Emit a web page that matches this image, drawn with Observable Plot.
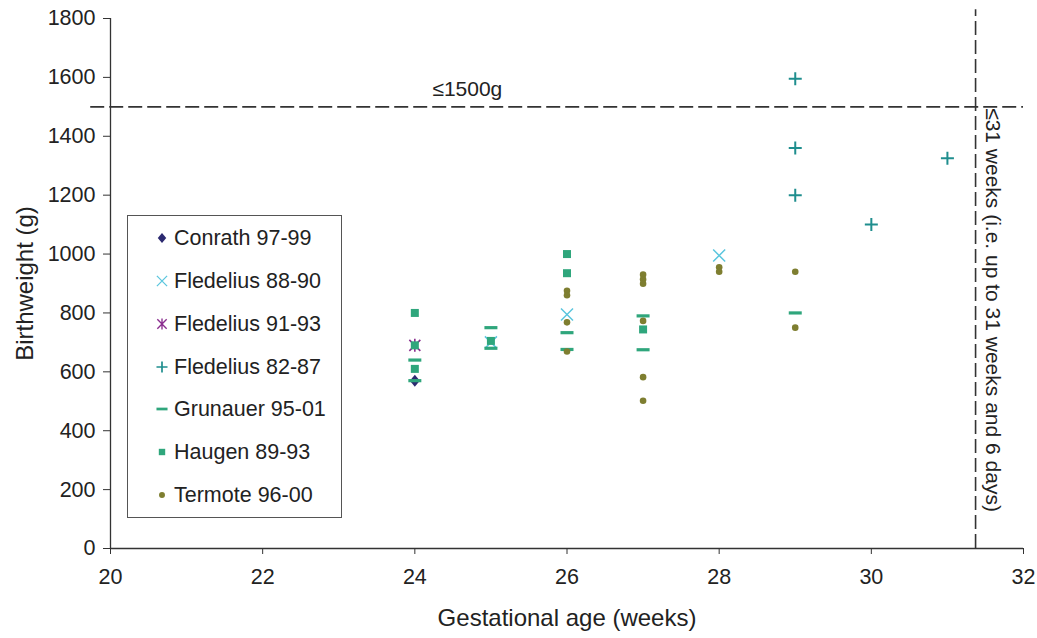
<!DOCTYPE html>
<html>
<head>
<meta charset="utf-8">
<script src="https://cdn.jsdelivr.net/npm/d3@7"></script>
<script src="https://cdn.jsdelivr.net/npm/@observablehq/plot@0.6"></script>
<style>
  html, body { margin: 0; padding: 0; background: #fff; }
  #wrap { position: relative; width: 1037px; height: 638px; font-family: "Liberation Sans", Arial, sans-serif; }
  #legend { position: absolute; left: 127px; top: 215px; width: 215px; height: 303px; border: 1px solid #555; background: #fff; box-sizing: border-box; }
  .item { position: absolute; left: 0; height: 24px; display: flex; align-items: center; font-size: 21.5px; color: #222; white-space: nowrap; }
  .item svg { margin-left: 26px; margin-right: 4px; }
</style>
</head>
<body>
<div id="wrap"></div>
<script>
// ---- data ----
const seriesNames = ["Conrath 97-99", "Fledelius 88-90", "Fledelius 91-93", "Fledelius 82-87", "Grunauer 95-01", "Haugen 89-93", "Termote 96-00"];
const seriesColors = ["#2C2A70", "#5BC6DE", "#8A2D8E", "#1F8E8E", "#2FA67C", "#2FA67C", "#7E7E30"];

const conrathWeeks = [24];
const conrathGrams = [570];
const fled8890Weeks = [25, 26, 28];
const fled8890Grams = [700, 795, 995];
const fled9193Weeks = [24];
const fled9193Grams = [690];
const fled8287Weeks = [29, 29, 29, 30, 31];
const fled8287Grams = [1595, 1360, 1200, 1100, 1325];
const grunauerWeeks = [24, 24, 25, 25, 26, 26, 27, 27, 29];
const grunauerGrams = [640, 570, 750, 680, 733, 676, 790, 675, 800];
const haugenWeeks = [24, 24, 24, 25, 26, 26, 27];
const haugenGrams = [800, 690, 610, 705, 1000, 935, 744];
const termoteWeeks = [26, 26, 26, 26, 27, 27, 27, 27, 27, 27, 28, 28, 29, 29];
const termoteGrams = [875, 860, 768, 669, 930, 914, 899, 773, 582, 502, 955, 940, 940, 750];

const xTicks = [20, 22, 24, 26, 28, 30, 32];
const yTicks = [0, 200, 400, 600, 800, 1000, 1200, 1400, 1600, 1800];
const weightLimit = [1500];
const weightLimitLabel = "≤1500g";
const ageLimit = [31.37];
const ageLimitLabel = "≤31 weeks (i.e. up to 31 weeks and 6 days)";

// ---- symbols ----
const symDiamond = { draw(c) { c.moveTo(0, -6); c.lineTo(5, 0); c.lineTo(0, 6); c.lineTo(-5, 0); c.closePath(); } };
const symTimes = { draw(c) { c.moveTo(-6, -6); c.lineTo(6, 6); c.moveTo(-6, 6); c.lineTo(6, -6); } };
const symAsterisk = { draw(c) { c.moveTo(-5.5, -5.5); c.lineTo(5.5, 5.5); c.moveTo(-5.5, 5.5); c.lineTo(5.5, -5.5); c.moveTo(0, -6.5); c.lineTo(0, 6.5); } };
const symPlus = { draw(c) { c.moveTo(-6.5, 0); c.lineTo(6.5, 0); c.moveTo(0, -6.5); c.lineTo(0, 6.5); } };
const symDash = { draw(c) { c.rect(-6.5, -1.6, 13, 3.2); } };
const symSquare = { draw(c) { c.rect(-4, -4, 8, 8); } };
const symCircle = { draw(c) { c.moveTo(3.3, 0); c.arc(0, 0, 3.3, 0, 2 * Math.PI); } };

const styles = [
  { symbol: symDiamond, fill: seriesColors[0], stroke: "none" },
  { symbol: symTimes, fill: "none", stroke: seriesColors[1], strokeWidth: 1.5 },
  { symbol: symAsterisk, fill: "none", stroke: seriesColors[2], strokeWidth: 1.6 },
  { symbol: symPlus, fill: "none", stroke: seriesColors[3], strokeWidth: 2 },
  { symbol: symDash, fill: seriesColors[4], stroke: "none" },
  { symbol: symSquare, fill: seriesColors[5], stroke: "none" },
  { symbol: symCircle, fill: seriesColors[6], stroke: "none" }
];
const seriesData = [
  [conrathWeeks, conrathGrams],
  [fled8890Weeks, fled8890Grams],
  [fled9193Weeks, fled9193Grams],
  [fled8287Weeks, fled8287Grams],
  [grunauerWeeks, grunauerGrams],
  [haugenWeeks, haugenGrams],
  [termoteWeeks, termoteGrams]
];

const dotMarks = seriesData.map(([wk, gr], i) =>
  Plot.dot(wk.map((w, j) => ({ week: w, grams: gr[j] })), { x: "week", y: "grams", ...styles[i] })
);

const axisColor = "#333";
const plot = Plot.plot({
  width: 1037,
  height: 638,
  marginLeft: 110,
  marginRight: 14,
  marginTop: 18,
  marginBottom: 90,
  style: { fontFamily: "'Liberation Sans', Arial, sans-serif", fontSize: "21.5px", color: "#222", background: "#fff" },
  x: { domain: [20, 32] },
  y: { domain: [0, 1800] },
  marks: [
    Plot.axisX({ ticks: xTicks, tickFormat: d => String(d), tickSize: 6, tickPadding: 14, stroke: axisColor, fontSize: 21.5, label: null }),
    Plot.axisY({ ticks: yTicks, tickFormat: d => String(d), tickSize: 7, tickPadding: 8, stroke: axisColor, fontSize: 21.5, label: null }),
    Plot.text(["Gestational age (weeks)"], { frameAnchor: "bottom", dy: 77, fontSize: 24, fill: "#222" }),
    Plot.text(["Birthweight (g)"], { frameAnchor: "left", textAnchor: "middle", dx: -85, rotate: -90, fontSize: 24, fill: "#222" }),
    Plot.ruleX([20], { stroke: axisColor, strokeWidth: 1.3 }),
    Plot.ruleY([0], { stroke: axisColor, strokeWidth: 1.3 }),
    Plot.ruleY(weightLimit, { x1: 19.74, x2: 32, stroke: "#333", strokeWidth: 1.6, strokeDasharray: "14,5" }),
    Plot.ruleX(ageLimit, { y1: 0, y2: 1830, stroke: "#333", strokeWidth: 1.6, strokeDasharray: "14,5" }),
    Plot.text([weightLimitLabel], { x: 24.69, y: weightLimit[0], dy: -18, fontSize: 21, fill: "#222" }),
    Plot.text([ageLimitLabel], { x: 31.6, y: 810, rotate: 90, fontSize: 21, fill: "#222" }),
    ...dotMarks
  ]
});

const wrap = document.getElementById("wrap");
wrap.appendChild(plot);

// ---- legend ----
const legend = document.createElement("div");
legend.id = "legend";
const itemTops = [237, 280, 323, 366, 408, 451, 494];
seriesNames.forEach((name, i) => {
  const item = document.createElement("div");
  item.className = "item";
  item.style.top = (itemTops[i] - 215 - 12) + "px";
  const svg = d3.create("svg").attr("width", 16).attr("height", 16).attr("viewBox", "-8 -8 16 16");
  const st = styles[i];
  const scale = i === 5 ? 0.8 : (i === 6 ? 0.9 : 0.85);
  svg.append("path")
    .attr("d", d3.symbol(st.symbol)())
    .attr("transform", `scale(${scale})`)
    .attr("fill", st.fill)
    .attr("stroke", st.stroke)
    .attr("stroke-width", st.strokeWidth || 0);
  item.appendChild(svg.node());
  const span = document.createElement("span");
  span.textContent = name;
  item.appendChild(span);
  legend.appendChild(item);
});
wrap.appendChild(legend);
</script>
</body>
</html>
